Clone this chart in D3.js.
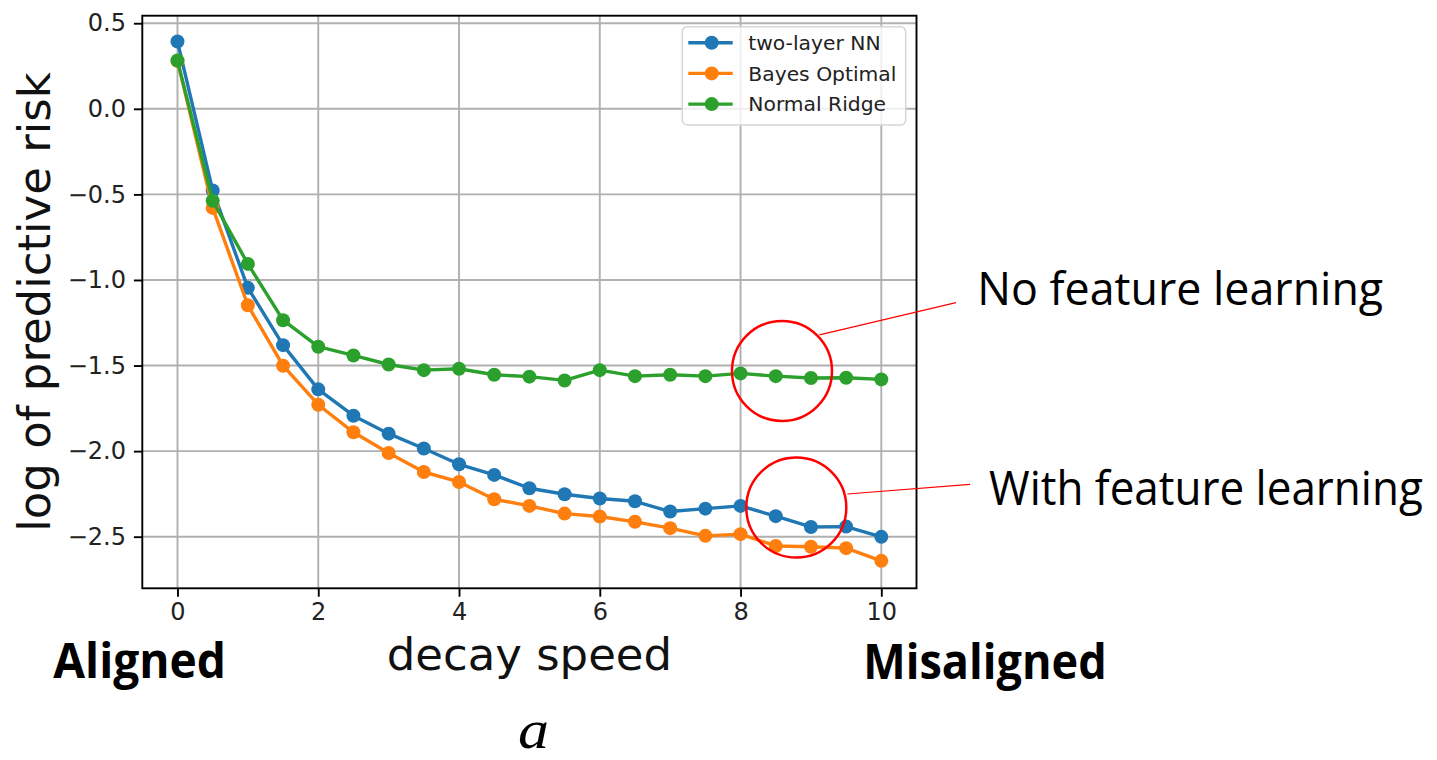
<!DOCTYPE html>
<html>
<head>
<meta charset="utf-8">
<script src="https://cdn.jsdelivr.net/npm/d3@7"></script>
<style>
  html, body { margin: 0; padding: 0; background: #fff; }
  svg { display: block; }
</style>
</head>
<body>
<svg id="chart" width="1437" height="760"></svg>
<script>
// ---- data ----
const decaySpeed = [0, 0.5, 1, 1.5, 2, 2.5, 3, 3.5, 4, 4.5, 5, 5.5, 6, 6.5, 7, 7.5, 8, 8.5, 9, 9.5, 10];
const twoLayerNN = [0.393, -0.477, -1.046, -1.381, -1.639, -1.793, -1.898, -1.985, -2.077, -2.139, -2.217, -2.252, -2.277, -2.293, -2.353, -2.336, -2.320, -2.380, -2.443, -2.441, -2.501];
const bayesOptimal = [0.28, -0.579, -1.148, -1.501, -1.729, -1.890, -2.011, -2.122, -2.180, -2.281, -2.320, -2.365, -2.382, -2.413, -2.450, -2.495, -2.485, -2.554, -2.559, -2.567, -2.641];
const normalRidge = [0.282, -0.537, -0.906, -1.235, -1.390, -1.441, -1.494, -1.527, -1.519, -1.554, -1.565, -1.587, -1.527, -1.562, -1.554, -1.562, -1.546, -1.562, -1.573, -1.571, -1.581];
const seriesNames = ["two-layer NN", "Bayes Optimal", "Normal Ridge"];
const seriesColors = ["#1f77b4", "#ff7f0e", "#2ca02c"];
const xTicks = [0, 2, 4, 6, 8, 10];
const yTicks = [0.5, 0.0, -0.5, -1.0, -1.5, -2.0, -2.5];
const xLabel = "decay speed";
const yLabel = "log of predictive risk";

const series = [twoLayerNN, bayesOptimal, normalRidge];

// ---- layout ----
const svg = d3.select("#chart");
const L = 142.3, R = 916.5, T = 15.7, B = 588.3;
const x = d3.scaleLinear().domain([-0.5, 10.5]).range([L, R]);
const y = d3.scaleLinear().domain([-2.8015, 0.544]).range([B, T]);

// grid
const grid = svg.append("g");
grid.selectAll("line.vx").data(xTicks).enter().append("line")
  .attr("x1", d => x(d)).attr("x2", d => x(d)).attr("y1", T).attr("y2", B)
  .attr("stroke", "#b0b0b0").attr("stroke-width", 1.9);
grid.selectAll("line.hy").data(yTicks).enter().append("line")
  .attr("x1", L).attr("x2", R).attr("y1", d => y(d)).attr("y2", d => y(d))
  .attr("stroke", "#b0b0b0").attr("stroke-width", 1.9);

// series
const line = d3.line().x((d, i) => x(decaySpeed[i])).y(d => y(d));
series.forEach((vals, k) => {
  const g = svg.append("g");
  g.append("path").datum(vals).attr("d", line)
    .attr("fill", "none").attr("stroke", seriesColors[k]).attr("stroke-width", 3.4)
    .attr("stroke-linejoin", "round");
  g.selectAll("circle").data(vals).enter().append("circle")
    .attr("cx", (d, i) => x(decaySpeed[i])).attr("cy", d => y(d)).attr("r", 7)
    .attr("fill", seriesColors[k]);
});

// axes
const xAxis = d3.axisBottom(x).tickValues(xTicks).tickFormat(d3.format("d")).tickSizeOuter(0).tickSize(8.4).tickPadding(6);
const yAxis = d3.axisLeft(y).tickValues(yTicks).tickFormat(d => d3.format(".1f")(d).replace("-", "\u2212")).tickSizeOuter(0).tickSize(8.4).tickPadding(8);
const gx = svg.append("g").attr("transform", `translate(0,${B})`).call(xAxis);
const gy = svg.append("g").attr("transform", `translate(${L},0)`).call(yAxis);
[gx, gy].forEach(g => {
  g.select(".domain").remove();
  g.selectAll(".tick line").attr("stroke", "#000").attr("stroke-width", 1.9);
  g.selectAll(".tick text").attr("fill", "#222").style("font-family", "DejaVu Sans").style("font-size", "24px");
});

// frame
svg.append("rect").attr("x", L).attr("y", T).attr("width", R - L).attr("height", B - T)
  .attr("fill", "none").attr("stroke", "#000").attr("stroke-width", 1.9);

// axis labels
svg.append("text").attr("x", (L + R) / 2).attr("y", 670).attr("text-anchor", "middle")
  .style("font-family", "DejaVu Sans").style("font-size", "45px").attr("fill", "#111").text(xLabel);
svg.append("text").attr("transform", `translate(49.5,${(T + B) / 2}) rotate(-90)`).attr("text-anchor", "middle")
  .style("font-family", "DejaVu Sans").style("font-size", "45px").attr("fill", "#111").text(yLabel);

// legend
const lg = svg.append("g");
lg.append("rect").attr("x", 682.3).attr("y", 26.7).attr("width", 223.4).attr("height", 98.3)
  .attr("rx", 5).attr("fill", "#fff").attr("fill-opacity", 0.8).attr("stroke", "#d6d6d6").attr("stroke-width", 1.5);
seriesNames.forEach((name, k) => {
  const yy = 42.7 + k * 30.7;
  lg.append("line").attr("x1", 688.3).attr("x2", 732.7).attr("y1", yy).attr("y2", yy)
    .attr("stroke", seriesColors[k]).attr("stroke-width", 3.4);
  lg.append("circle").attr("cx", 711.7).attr("cy", yy).attr("r", 7).attr("fill", seriesColors[k]);
  lg.append("text").attr("x", 748.3).attr("y", yy + 7.3)
    .style("font-family", "DejaVu Sans").style("font-size", "20.3px").attr("fill", "#222").text(name);
});

// annotations
const ann = svg.append("g");
ann.append("ellipse").attr("cx", 782).attr("cy", 371).attr("rx", 50).attr("ry", 50)
  .attr("fill", "none").attr("stroke", "#ff0000").attr("stroke-width", 2.5);
ann.append("ellipse").attr("cx", 796.3).attr("cy", 507.5).attr("rx", 50).attr("ry", 50)
  .attr("fill", "none").attr("stroke", "#ff0000").attr("stroke-width", 2.5);
ann.append("line").attr("x1", 819.5).attr("y1", 334.8).attr("x2", 956).attr("y2", 302.7)
  .attr("stroke", "#ff0000").attr("stroke-width", 1.2);
ann.append("line").attr("x1", 847.3).attr("y1", 494).attr("x2", 970).attr("y2", 484.3)
  .attr("stroke", "#ff0000").attr("stroke-width", 1.2);

const annFont = "'Open Sans', 'Noto Sans', sans-serif";
// place a text and squeeze it horizontally to a target width (via transform)
function fitText(str, x0, y0, width, size, weight, family, style) {
  const t = ann.append("text")
    .style("font-family", family || annFont).style("font-size", size + "px")
    .style("font-weight", weight || "normal").style("font-style", style || "normal")
    .attr("fill", "#000").text(str);
  const natural = t.node().getComputedTextLength();
  const sx = width / natural;
  t.attr("transform", `translate(${x0},${y0}) scale(${sx},1)`);
  return t;
}
fitText("No feature learning", 977.3, 305, 406, 46.5);
fitText("With feature learning", 989, 505, 434, 47);
fitText("Aligned", 53.3, 677.7, 172.7, 48, "bold");
fitText("Misaligned", 863.3, 679, 243.4, 49, "bold");
fitText("a", 518, 748, 31, 54, "normal", "'Liberation Serif', serif", "italic");
</script>
</body>
</html>
